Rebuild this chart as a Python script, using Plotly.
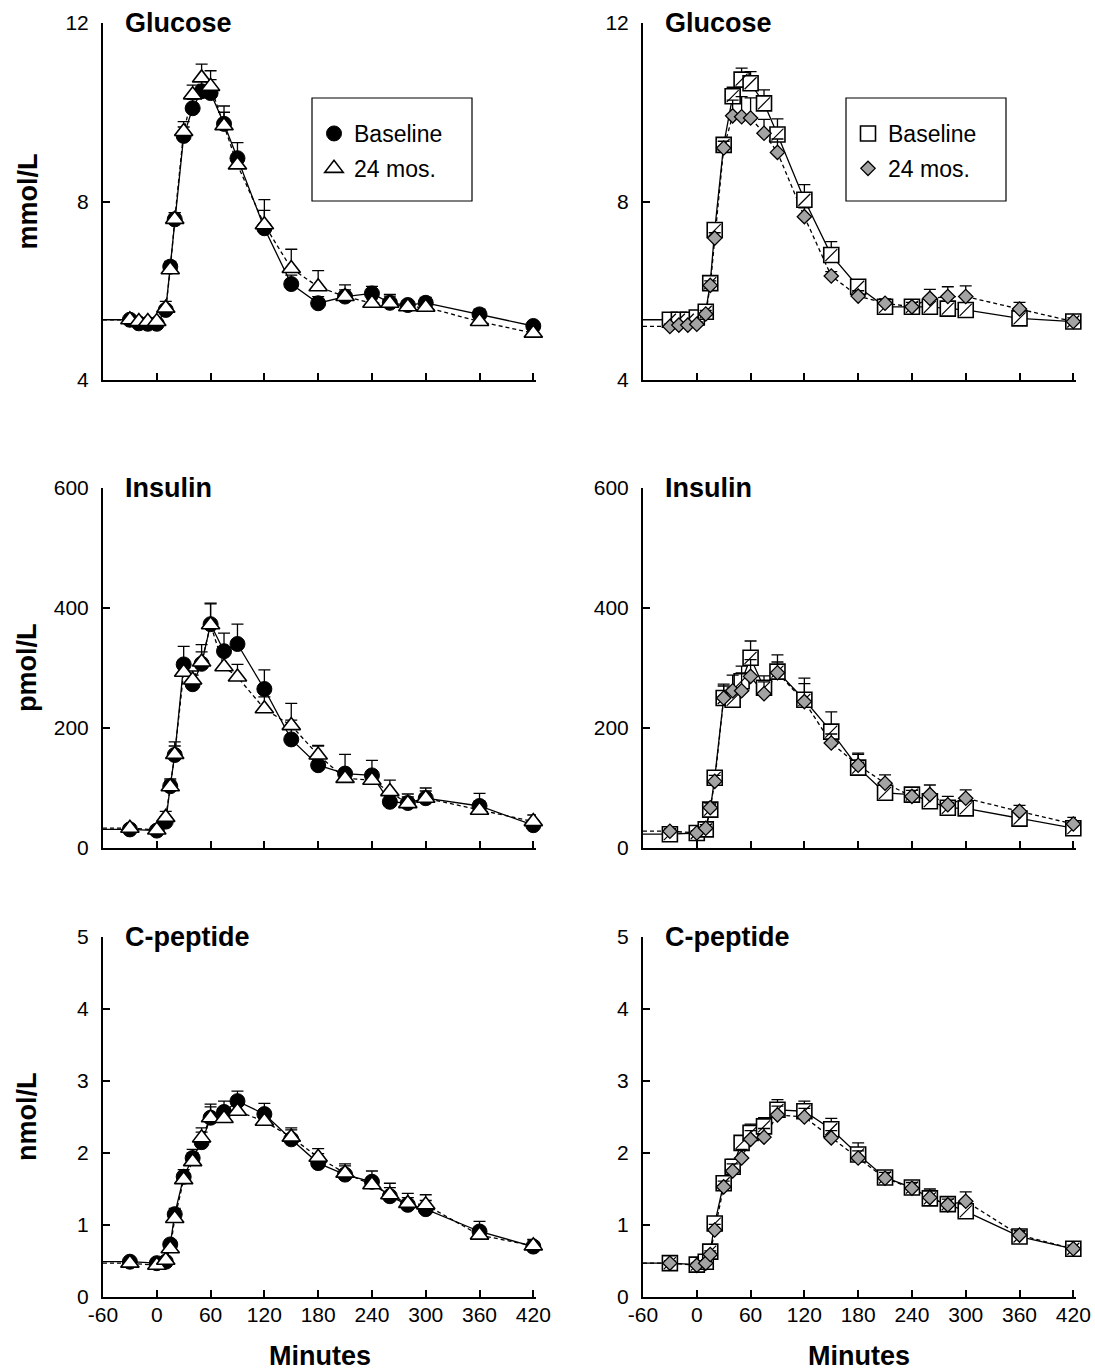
import plotly.graph_objects as go

# ---------------- data ----------------
T_GLU = [-30, -20, -10, 0, 10, 15, 20, 30, 40, 50, 60, 75, 90, 120, 150, 180, 210, 240, 260, 280, 300, 360, 420]
T_HOR = [-30, 0, 10, 15, 20, 30, 40, 50, 60, 75, 90, 120, 150, 180, 210, 240, 260, 280, 300, 360, 420]

# Glucose (mmol/L) - left group
glu_L_base = [5.35, 5.27, 5.26, 5.26, 5.57, 6.54, 7.6, 9.47, 10.09, 10.47, 10.43, 9.74, 8.97, 7.4, 6.15, 5.72, 5.87, 5.94, 5.73, 5.68, 5.73, 5.47, 5.21]
glu_L_base_err = [0.05, 0.05, 0.05, 0.05, 0.08, 0.12, 0.15, 0.2, 0.2, 0.25, 0.3, 0.4, 0.35, 0.4, 0.2, 0.15, 0.15, 0.16, 0.15, 0.1, 0.12, 0.12, 0.1]
glu_L_24 = [5.35, 5.31, 5.31, 5.31, 5.61, 6.47, 7.6, 9.57, 10.39, 10.77, 10.58, 9.7, 8.82, 7.48, 6.5, 6.09, 5.87, 5.72, 5.72, 5.64, 5.63, 5.31, 5.05]
glu_L_24_err = [0.05, 0.05, 0.05, 0.05, 0.15, 0.12, 0.15, 0.22, 0.22, 0.31, 0.35, 0.3, 0.2, 0.56, 0.43, 0.36, 0.26, 0.1, 0.2, 0.12, 0.12, 0.1, 0.08]

# Glucose (mmol/L) - right group
glu_R_base = [5.35, 5.35, 5.35, 5.4, 5.53, 6.17, 7.36, 9.27, 10.36, 10.73, 10.65, 10.2, 9.5, 8.04, 6.8, 6.09, 5.64, 5.64, 5.64, 5.6, 5.57, 5.38, 5.31]
glu_R_base_err = [0.05, 0.05, 0.05, 0.05, 0.12, 0.1, 0.12, 0.15, 0.2, 0.26, 0.26, 0.3, 0.35, 0.34, 0.3, 0.15, 0.1, 0.1, 0.1, 0.1, 0.1, 0.1, 0.08]
glu_R_24 = [5.2, 5.23, 5.23, 5.25, 5.48, 6.12, 7.18, 9.2, 9.92, 9.9, 9.87, 9.53, 9.1, 7.66, 6.33, 5.88, 5.72, 5.64, 5.83, 5.87, 5.87, 5.59, 5.31]
glu_R_24_err = [0.05, 0.05, 0.05, 0.05, 0.08, 0.1, 0.12, 0.15, 0.35, 0.45, 0.45, 0.31, 0.3, 0.2, 0.1, 0.12, 0.1, 0.1, 0.2, 0.22, 0.24, 0.15, 0.08]

# Insulin (pmol/L)
ins_L_base = [31, 29, 44, 103, 155, 306, 273, 307, 373, 328, 340, 265, 181, 138, 124, 121, 77, 75, 83, 70, 38]
ins_L_base_err = [5, 5, 8, 12, 22, 30, 15, 20, 35, 30, 33, 32, 32, 32, 32, 25, 10, 10, 12, 21, 8]
ins_L_24 = [33, 30, 51, 102, 156, 293, 280, 310, 372, 302, 285, 232, 204, 155, 116, 113, 94, 74, 83, 63, 44]
ins_L_24_err = [5, 5, 10, 10, 14, 15, 15, 29, 35, 20, 21, 20, 37, 16, 15, 15, 19, 16, 17, 15, 11]

ins_R_base = [23, 25, 31, 64, 117, 250, 247, 278, 317, 267, 294, 247, 194, 134, 92, 89, 78, 67, 66, 49, 33]
ins_R_base_err = [4, 4, 6, 8, 10, 23, 20, 25, 28, 20, 28, 36, 33, 24, 15, 10, 12, 12, 15, 10, 8]
ins_R_24 = [28, 25, 33, 67, 111, 250, 262, 262, 286, 257, 292, 244, 175, 138, 108, 86, 89, 72, 83, 61, 40]
ins_R_24_err = [4, 4, 6, 8, 10, 20, 26, 30, 28, 20, 18, 30, 15, 18, 14, 10, 16, 14, 14, 10, 11]

# C-peptide (nmol/L)
cp_L_base = [0.49, 0.47, 0.49, 0.73, 1.15, 1.67, 1.93, 2.15, 2.49, 2.57, 2.72, 2.54, 2.19, 1.86, 1.7, 1.6, 1.4, 1.28, 1.22, 0.91, 0.7]
cp_L_base_err = [0.03, 0.03, 0.03, 0.05, 0.08, 0.1, 0.12, 0.14, 0.15, 0.15, 0.14, 0.15, 0.16, 0.13, 0.15, 0.15, 0.12, 0.1, 0.12, 0.14, 0.1]
cp_L_24 = [0.47, 0.44, 0.51, 0.67, 1.09, 1.63, 1.88, 2.21, 2.49, 2.48, 2.58, 2.44, 2.22, 1.94, 1.72, 1.56, 1.42, 1.3, 1.28, 0.86, 0.71]
cp_L_24_err = [0.03, 0.03, 0.03, 0.05, 0.08, 0.08, 0.12, 0.14, 0.19, 0.14, 0.12, 0.12, 0.1, 0.12, 0.1, 0.1, 0.16, 0.14, 0.14, 0.1, 0.08]

cp_R_base = [0.47, 0.45, 0.49, 0.63, 1.02, 1.58, 1.81, 2.14, 2.28, 2.37, 2.6, 2.58, 2.33, 1.98, 1.66, 1.52, 1.37, 1.29, 1.19, 0.84, 0.67]
cp_R_base_err = [0.03, 0.03, 0.03, 0.05, 0.08, 0.08, 0.1, 0.1, 0.12, 0.12, 0.14, 0.14, 0.15, 0.16, 0.08, 0.08, 0.1, 0.08, 0.1, 0.06, 0.05]
cp_R_24 = [0.47, 0.44, 0.47, 0.59, 0.93, 1.53, 1.75, 1.93, 2.19, 2.22, 2.53, 2.5, 2.21, 1.93, 1.65, 1.51, 1.38, 1.28, 1.33, 0.86, 0.67]
cp_R_24_err = [0.03, 0.03, 0.03, 0.05, 0.08, 0.08, 0.1, 0.12, 0.12, 0.12, 0.12, 0.12, 0.1, 0.1, 0.08, 0.08, 0.12, 0.08, 0.13, 0.06, 0.05]

X_TICKS = [-60, 0, 60, 120, 180, 240, 300, 360, 420]
PANELS = ["Glucose", "Insulin", "C-peptide"]
UNITS = ["mmol/L", "pmol/L", "nmol/L"]
Y_TICKS = [[4, 8, 12], [0, 200, 400, 600], [0, 1, 2, 3, 4, 5]]
Y_RANGES = [[4, 12], [0, 600], [0, 5]]
SERIES = ["Baseline", "24 mos."]

# ---------------- figure ----------------
W, H = 1095, 1370
FONT = "Liberation Sans, Arial, sans-serif"
fig = go.Figure()

def px_x(a, b):
    return [a / W, b / W]

def px_y(top, bottom):
    return [1 - bottom / H, 1 - top / H]

X_DOM = [px_x(103, 536), px_x(643, 1076)]
Y_DOM = [px_y(23, 380), px_y(488, 848), px_y(937, 1297)]
X_RANGE = [-60, 423]

data = [
    [(T_GLU, glu_L_base, glu_L_base_err, glu_L_24, glu_L_24_err),
     (T_GLU, glu_R_base, glu_R_base_err, glu_R_24, glu_R_24_err)],
    [(T_HOR, ins_L_base, ins_L_base_err, ins_L_24, ins_L_24_err),
     (T_HOR, ins_R_base, ins_R_base_err, ins_R_24, ins_R_24_err)],
    [(T_HOR, cp_L_base, cp_L_base_err, cp_L_24, cp_L_24_err),
     (T_HOR, cp_R_base, cp_R_base_err, cp_R_24, cp_R_24_err)],
]

layout_axes = {}
annotations = []
shapes = []
k = 0
for r in range(3):
    for c in range(2):
        k += 1
        xa = "x" if k == 1 else f"x{k}"
        ya = "y" if k == 1 else f"y{k}"
        xname = "xaxis" if k == 1 else f"xaxis{k}"
        yname = "yaxis" if k == 1 else f"yaxis{k}"
        t, base, base_err, m24, m24_err = data[r][c]
        zeros = [0] * len(t)
        leg = "legend" if c == 0 else "legend2"
        show = (r == 0)

        # connecting lines (extended flat to the axis at the left)
        tl = [X_RANGE[0]] + list(t)
        fig.add_trace(go.Scatter(x=tl, y=[base[0]] + list(base), mode="lines",
                                 line=dict(color="black", width=1.3), xaxis=xa, yaxis=ya,
                                 showlegend=False, cliponaxis=False, hoverinfo="skip"))
        fig.add_trace(go.Scatter(x=tl, y=[m24[0]] + list(m24), mode="lines",
                                 line=dict(color="black", width=1.3, dash="4px,3px"), xaxis=xa, yaxis=ya,
                                 showlegend=False, cliponaxis=False, hoverinfo="skip"))
        err_base = dict(type="data", array=base_err, arrayminus=zeros, symmetric=False,
                        color="black", thickness=1.3, width=6)
        err_24 = dict(type="data", array=m24_err, arrayminus=zeros, symmetric=False,
                      color="black", thickness=1.3, width=6)
        if c == 0:
            fig.add_trace(go.Scatter(x=t, y=base, mode="markers", name=SERIES[0],
                                     marker=dict(symbol="circle", size=15, color="black",
                                                 line=dict(color="black", width=1)),
                                     error_y=err_base, xaxis=xa, yaxis=ya, cliponaxis=False,
                                     showlegend=show, legend=leg, legendgroup="a"))
            fig.add_trace(go.Scatter(x=t, y=m24, mode="markers", name=SERIES[1],
                                     marker=dict(symbol="triangle-up", size=16, color="white",
                                                 line=dict(color="black", width=1.6)),
                                     error_y=err_24, xaxis=xa, yaxis=ya, cliponaxis=False,
                                     showlegend=show, legend=leg, legendgroup="b"))
        else:
            fig.add_trace(go.Scatter(x=t, y=base, mode="markers", name=SERIES[0],
                                     marker=dict(symbol="square", size=15, color="white",
                                                 line=dict(color="black", width=1.6)),
                                     error_y=err_base, xaxis=xa, yaxis=ya, cliponaxis=False,
                                     showlegend=show, legend=leg, legendgroup="c"))
            # hatch stroke inside the squares
            fig.add_trace(go.Scatter(x=t, y=base, mode="markers",
                                     marker=dict(symbol="line-ne", size=12, color="black",
                                                 line=dict(color="black", width=1.2)),
                                     xaxis=xa, yaxis=ya, cliponaxis=False, showlegend=False,
                                     hoverinfo="skip"))
            fig.add_trace(go.Scatter(x=t, y=m24, mode="markers", name=SERIES[1],
                                     marker=dict(symbol="diamond", size=11, color="#a3a3a3",
                                                 line=dict(color="black", width=1.3)),
                                     error_y=err_24, xaxis=xa, yaxis=ya, cliponaxis=False,
                                     showlegend=show, legend=leg, legendgroup="d"))

        layout_axes[xname] = dict(
            domain=X_DOM[c], range=X_RANGE, anchor=ya, tickvals=X_TICKS,
            ticktext=[str(v) for v in X_TICKS], showticklabels=(r == 2),
            showline=True, linecolor="black", linewidth=2, ticks="inside", ticklen=7,
            tickwidth=1.6, tickcolor="black", showgrid=False, zeroline=False, automargin=False,
            tickfont=dict(family=FONT, size=21, color="black"), ticklabelstandoff=-2,
        )
        layout_axes[yname] = dict(
            domain=Y_DOM[r], range=Y_RANGES[r], anchor=xa, tickvals=Y_TICKS[r],
            showline=True, linecolor="black", linewidth=2, ticks="inside", ticklen=7,
            tickwidth=1.6, tickcolor="black", showgrid=False, zeroline=False, automargin=False,
            tickfont=dict(family=FONT, size=21, color="black"), ticklabelstandoff=8,
        )
        # panel title
        annotations.append(dict(
            text=f"<b>{PANELS[r]}</b>", xref="paper", yref="paper",
            x=(X_DOM[c][0] * W + 20) / W, y=Y_DOM[r][1], xanchor="left", yanchor="middle",
            showarrow=False, font=dict(family=FONT, size=27, color="black")))

    # unit label on the left column
    annotations.append(dict(
        text=f"<b>{UNITS[r]}</b>", xref="paper", yref="paper", x=27 / W,
        y=(Y_DOM[r][0] + Y_DOM[r][1]) / 2, xanchor="center", yanchor="middle",
        textangle=-90, showarrow=False, font=dict(family=FONT, size=27, color="black")))

for c in range(2):
    annotations.append(dict(
        text="<b>Minutes</b>", xref="paper", yref="paper",
        x=(X_DOM[c][0] + X_DOM[c][1]) / 2, y=1 - 1356 / H, xanchor="center", yanchor="middle",
        showarrow=False, font=dict(family=FONT, size=27, color="black")))

# legend frames
for (x0, x1) in [(312, 472), (846, 1006)]:
    shapes.append(dict(type="rect", xref="paper", yref="paper", x0=x0 / W, x1=x1 / W,
                       y0=1 - 201 / H, y1=1 - 98 / H, line=dict(color="black", width=1.2),
                       fillcolor="rgba(0,0,0,0)"))

legend_common = dict(font=dict(family=FONT, size=23, color="black"), bgcolor="rgba(0,0,0,0)",
                     borderwidth=0, xanchor="left", yanchor="top", traceorder="grouped",
                     tracegroupgap=2, itemsizing="trace")

fig.update_layout(
    width=W, height=H, margin=dict(l=0, r=0, t=0, b=0, pad=0, autoexpand=False),
    paper_bgcolor="white", plot_bgcolor="white",
    annotations=annotations, shapes=shapes,
    legend=dict(x=314 / W, y=1 - 112 / H, **legend_common),
    legend2=dict(x=848 / W, y=1 - 112 / H, **legend_common),
    **layout_axes,
)

fig.write_html("out.html")
